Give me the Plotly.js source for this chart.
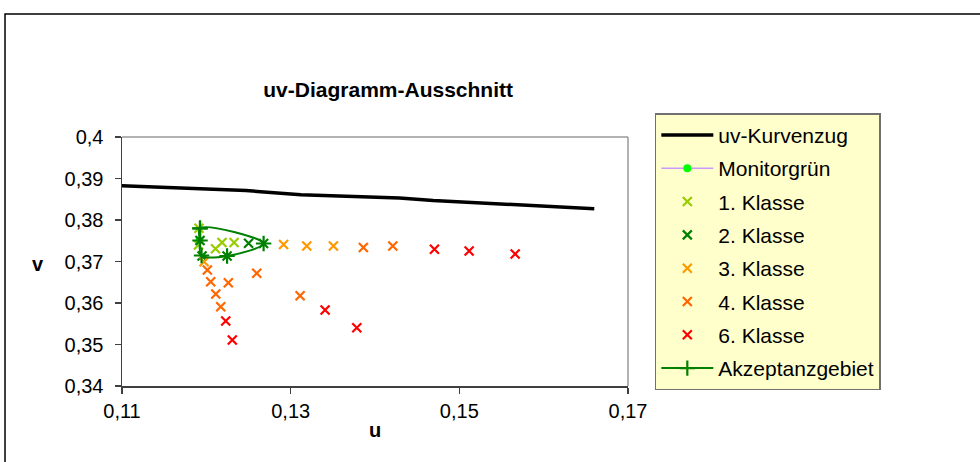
<!DOCTYPE html>
<html><head><meta charset="utf-8">
<script src="https://cdn.plot.ly/plotly-3.0.1.min.js"></script>
<style>html,body{margin:0;padding:0;background:#fff}#chart{width:980px;height:462px}</style>
</head><body><div id="chart"></div>
<script>
// uv-Kurvenzug (spectral locus segment)
const curveU = [0.1093, 0.1128, 0.1247, 0.1312, 0.1429, 0.1469, 0.1534, 0.1660];
const curveV = [0.3883, 0.3880, 0.3871, 0.3861, 0.3853, 0.3847, 0.3840, 0.3827];
// Monitorgrün
const monU = [0.1192];
const monV = [0.3751];
// Klassen
const k1U = [0.11913, 0.11907, 0.12109, 0.12186, 0.12329];
const k1V = [0.37800, 0.37398, 0.37308, 0.37458, 0.37458];
const k2U = [0.12501, 0.12679, 0.12246, 0.11949, 0.11925];
const k2V = [0.37439, 0.37434, 0.37133, 0.37133, 0.37506];
const k3U = [0.11973, 0.12916, 0.13191, 0.13507];
const k3V = [0.36995, 0.37410, 0.37373, 0.37373];
const k4U = [0.13862, 0.14211, 0.12012, 0.12052, 0.12112, 0.12171, 0.12261, 0.12598, 0.13112];
const k4V = [0.37337, 0.37373, 0.36795, 0.36513, 0.36217, 0.35911, 0.36489, 0.36716, 0.36176];
const k6U = [0.14705, 0.15116, 0.15662, 0.12230, 0.12308, 0.13408, 0.13784];
const k6V = [0.37294, 0.37253, 0.37181, 0.35566, 0.35108, 0.35831, 0.35405];
// Akzeptanzgebiet (closed outline)
const akzU = [0.11925, 0.12679, 0.12246, 0.11943, 0.11925, 0.11925];
const akzV = [0.37800, 0.37434, 0.37133, 0.37145, 0.37506, 0.37800];
// Axis ticks
const xTicks = [0.11, 0.13, 0.15, 0.17];
const yTicks = [0.34, 0.35, 0.36, 0.37, 0.38, 0.39, 0.40];

const FONT = 'Liberation Sans, Arial, sans-serif';
const xm = (u, v, name, color, g) => ({
  x: u, y: v, name: name, type: 'scatter', mode: 'markers', legendgroup: g,
  marker: {symbol: 'x-thin-open', size: 9, color: color, line: {color: color, width: 2.2}}
});

const traces = [
  {x: curveU, y: curveV, name: 'uv-Kurvenzug', type: 'scatter', mode: 'lines', legendgroup: 'a',
   line: {color: '#000000', width: 3.5}},
  {x: monU, y: monV, name: 'Monitorgrün', type: 'scatter', mode: 'lines+markers', legendgroup: 'b',
   line: {color: '#CC99FF', width: 1.5}, marker: {symbol: 'circle', size: 8, color: '#00FF00'}},
  xm(k1U, k1V, '1. Klasse', '#99CC00', 'c'),
  xm(k2U, k2V, '2. Klasse', '#008000', 'd'),
  xm(k3U, k3V, '3. Klasse', '#FF9900', 'e'),
  xm(k4U, k4V, '4. Klasse', '#FF6600', 'f'),
  xm(k6U, k6V, '6. Klasse', '#FF0000', 'g'),
  {x: akzU, y: akzV, name: 'Akzeptanzgebiet', type: 'scatter', mode: 'lines+markers', legendgroup: 'h',
   line: {color: '#008000', width: 2, shape: 'spline', smoothing: 1},
   marker: {symbol: 'cross-thin-open', size: 11, color: '#008000', line: {color: '#008000', width: 2.2}}}
];

const layout = {
  width: 980, height: 462,
  margin: {l: 122, r: 352, t: 137, b: 76, pad: 0},
  paper_bgcolor: '#ffffff', plot_bgcolor: '#ffffff',
  separators: ', ',
  font: {family: FONT, size: 20, color: '#000000'},
  showlegend: true,
  title: {text: 'uv-Diagramm-Ausschnitt', font: {family: FONT, size: 21, color: '#000', weight: 'bold'},
          xref: 'paper', yref: 'container', x: 0.526, xanchor: 'center', y: 0.805, yanchor: 'middle'},
  xaxis: {range: [0.11, 0.17], tickvals: xTicks, showgrid: false, zeroline: false,
          showline: true, linecolor: '#404040', linewidth: 1.5,
          ticks: 'outside', ticklen: 6, tickcolor: '#404040', tickwidth: 1.5,
          tickfont: {family: FONT, size: 20, color: '#000'},
          title: {text: 'u', font: {family: FONT, size: 20, color: '#000', weight: 'bold'}, standoff: 2}},
  yaxis: {range: [0.34, 0.40], tickvals: yTicks, showgrid: false, zeroline: false,
          showline: true, linecolor: '#404040', linewidth: 1.5,
          ticks: 'outside', ticklen: 6, tickcolor: '#404040', tickwidth: 1.5, ticklabelstandoff: 7,
          tickfont: {family: FONT, size: 20, color: '#000'}},
  legend: {x: 1.053, xanchor: 'left', y: 1.095, yanchor: 'top',
           bgcolor: '#FFFFCC', bordercolor: '#707070', borderwidth: 1.5,
           font: {family: FONT, size: 21, color: '#000'}, maxheight: 320,
           traceorder: 'grouped', tracegroupgap: 3, itemwidth: 52},
  annotations: [
    {text: '<b>v</b>', xref: 'paper', yref: 'paper', x: -0.166, y: 0.49, showarrow: false,
     font: {family: FONT, size: 20, color: '#000'}, xanchor: 'center', yanchor: 'middle'}
  ],
  shapes: [
    // plot area border (top & right)
    {type: 'line', xref: 'paper', yref: 'paper', x0: 0, x1: 1, y0: 1, y1: 1, line: {color: '#999999', width: 1.5}},
    {type: 'line', xref: 'paper', yref: 'paper', x0: 1, x1: 1, y0: 0, y1: 1, line: {color: '#999999', width: 1.5}},
    // chart area outer border
    {type: 'rect', xref: 'paper', yref: 'paper', x0: -0.2312, x1: 1.8, y0: -0.5, y1: 1.494,
     line: {color: '#000000', width: 1.5}, fillcolor: 'rgba(0,0,0,0)', layer: 'below'}
  ]
};

Plotly.newPlot('chart', traces, layout, {staticPlot: true, displayModeBar: false});
</script></body></html>
